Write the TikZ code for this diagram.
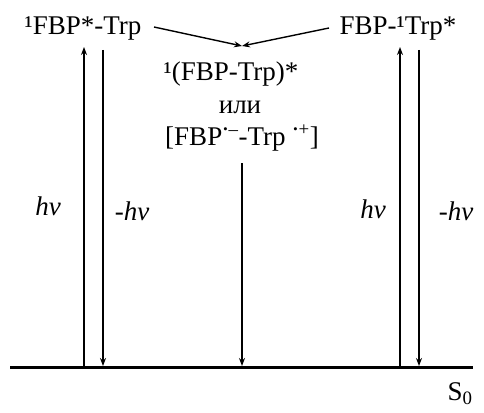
\documentclass[tikz,border=0pt]{standalone}
\usepackage{fontspec}
\setmainfont{Liberation Serif}
\usetikzlibrary{arrows.meta}
\begin{document}
\begin{tikzpicture}[x=1pt,y=-1pt,
  lbl/.style={inner sep=0pt, anchor=base, font=\fontsize{27}{32}\selectfont},
  hvl/.style={lbl, font=\fontsize{27}{32}\selectfont\itshape},
  arr/.style={line width=1.4pt, -{Stealth[length=8pt,width=6pt]}},
  ground/.style={line width=3pt}]
\useasboundingbox (0,0) rectangle (484,412);
\node[lbl] (lt) at (83,35) {¹FBP*-Trp};
\node[lbl] (rt) at (398,35) {FBP-¹Trp*};
\node[lbl] (c1) at (231,80) {¹(FBP-Trp)*};
\node[lbl] (c2) at (240,113) {или};
\node[lbl] (c3) at (242,145) {[FBP\textsuperscript{\textbf{·}–}-Trp \textsuperscript{\textbf{·}+}]};
\node[lbl] (s0) at (460,400) {S\textsubscript{0}};
\node[hvl] (h1) at (48,215) {hν};
\node[hvl] (h2) at (132,220) {-hν};
\node[hvl] (h3) at (373,218) {hν};
\node[hvl] (h4) at (456,220) {-hν};
% ground line
\coordinate (gl) at (10,367);
\coordinate (gr) at (473,367);
\draw[ground] (gl) -- (gr);
% connector end points
\coordinate (ma) at (154,27);
\coordinate (mb) at (329,28);
\coordinate (m) at (242,46);
\coordinate (u1b) at (84,367);  \coordinate (u1t) at (84,47);
\coordinate (d1t) at (103,50);  \coordinate (d1b) at (103,366);
\coordinate (u2b) at (400,367); \coordinate (u2t) at (400,47);
\coordinate (d2t) at (419,50);  \coordinate (d2b) at (419,366);
\coordinate (ct) at (242,163);  \coordinate (cb) at (242,366);
\draw[arr] (ma) -- (m);
\draw[arr] (mb) -- (m);
\draw[arr] (u1b) -- (u1t);
\draw[arr] (d1t) -- (d1b);
\draw[arr] (u2b) -- (u2t);
\draw[arr] (d2t) -- (d2b);
\draw[arr] (ct) -- (cb);
\end{tikzpicture}
\end{document}
